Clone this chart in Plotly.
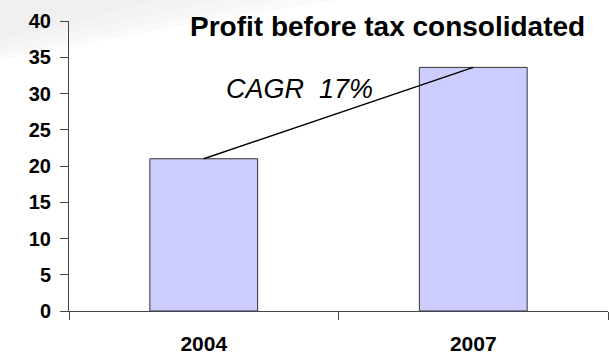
import plotly.graph_objects as go

years = ["2004", "2007"]
profit = [21.0, 33.6]
y_ticks = [0, 5, 10, 15, 20, 25, 30, 35, 40]
title_text = "Profit before tax consolidated"
cagr_text = "CAGR\u00a0 17%"

FONT = "Liberation Sans, Arial, sans-serif"
L, R, T, B = 69, 2, 21, 44
W, H = 610, 355
PW, PH = W - L - R, H - T - B

def px(x):
    return (x - L) / PW

def py(y):
    return (H - B - y) / PH

fig = go.Figure()
fig.add_trace(go.Bar(
    x=years, y=profit, width=0.4,
    marker=dict(color="#ccccff", line=dict(color="#333333", width=1)),
    hoverinfo="skip", showlegend=False,
))
fig.add_trace(go.Scatter(
    x=years, y=profit, mode="lines",
    line=dict(color="black", width=1.5),
    hoverinfo="skip", showlegend=False,
))

# subtle grey background gradient in the top-left corner
polys = [
    [(0, 0), (340, 0), (220, 18), (0, 60)],
    [(0, 0), (280, 0), (170, 20), (0, 54)],
    [(0, 0), (220, 0), (120, 22), (0, 47)],
    [(0, 0), (160, 0), (70, 24), (0, 40)],
]
shapes = []
for poly in polys:
    path = "M " + " L ".join(f"{px(a):.4f},{py(b):.4f}" for a, b in poly) + " Z"
    shapes.append(dict(type="path", xref="paper", yref="paper", path=path,
                       fillcolor="#e8e8e8", opacity=0.22, line=dict(width=0),
                       layer="below"))

fig.update_layout(
    width=W, height=H,
    margin=dict(l=L, r=R, t=T, b=B, autoexpand=False),
    paper_bgcolor="white", plot_bgcolor="rgba(0,0,0,0)",
    font=dict(family=FONT, color="black"),
    shapes=shapes,
    annotations=[
        dict(text=title_text, xref="paper", yref="paper",
             x=px(387.5), y=py(26), xanchor="center", yanchor="middle",
             showarrow=False, font=dict(family=FONT, size=28, weight="bold", color="black")),
        dict(text=cagr_text, xref="paper", yref="paper",
             x=px(299), y=py(89), xanchor="center", yanchor="middle",
             showarrow=False, font=dict(family=FONT, size=27, style="italic", color="black")),
    ],
)
fig.update_xaxes(
    type="category", range=[-0.5, 1.5], tickson="boundaries",
    ticks="outside", ticklen=8, tickcolor="#444444", tickwidth=1,
    showline=True, linecolor="#444444", linewidth=1,
    showgrid=False, zeroline=False, automargin=False,
    tickfont=dict(family=FONT, size=21, weight="bold", color="black"),
    ticklabelstandoff=14, fixedrange=True,
)
fig.update_yaxes(
    range=[0, 40], tickvals=y_ticks, ticktext=[str(v) for v in y_ticks],
    ticks="outside", ticklen=8, tickcolor="#444444", tickwidth=1,
    showline=True, linecolor="#444444", linewidth=1,
    showgrid=False, zeroline=False, automargin=False,
    tickfont=dict(family=FONT, size=20, weight="bold", color="black"),
    ticklabelstandoff=5, fixedrange=True,
)

fig.write_html("out.html", config={"displayModeBar": False})
